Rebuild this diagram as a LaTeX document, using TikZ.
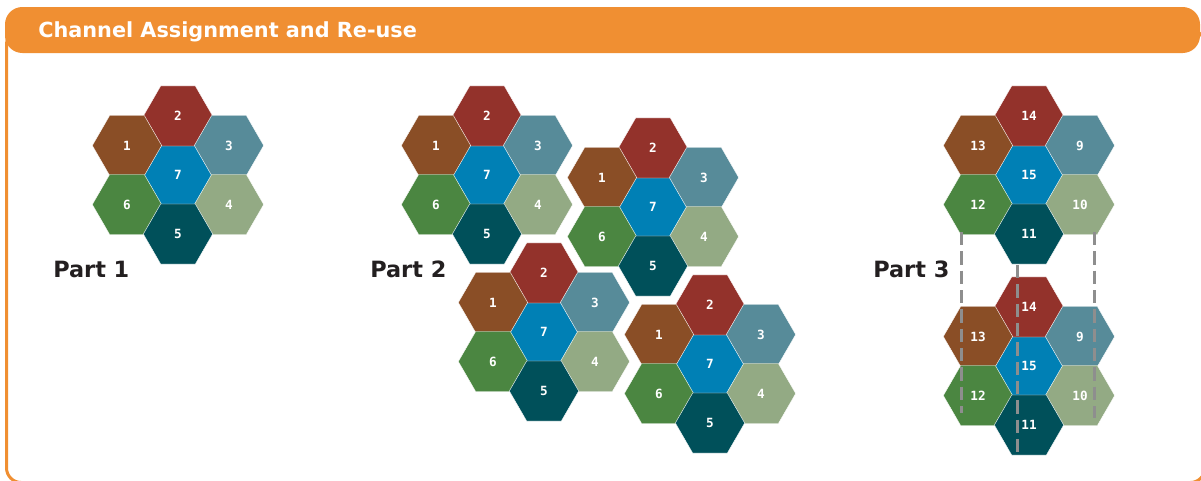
\documentclass[tikz,border=0pt]{standalone}
\usepackage{fontspec}
\setmainfont{DejaVu Sans}
\newfontfamily\cellfont{DejaVu Sans Mono}
\usetikzlibrary{shapes.geometric}

\definecolor{hdrorange}{HTML}{F08F32}
\definecolor{cellbrown}{HTML}{8A4E26}
\definecolor{cellred}{HTML}{93322B}
\definecolor{cellslate}{HTML}{578B99}
\definecolor{cellsage}{HTML}{93AA84}
\definecolor{cellteal}{HTML}{00505A}
\definecolor{cellgreen}{HTML}{4B8641}
\definecolor{cellblue}{HTML}{0080B5}
\definecolor{guidegray}{HTML}{8E8E8E}
\definecolor{labelblack}{HTML}{231F20}

\tikzset{
  cell/.style={regular polygon, regular polygon sides=6, minimum size=52pt,
    inner sep=0pt, outer sep=0pt, draw=white, line width=0.3pt, text=white,
    font=\cellfont\bfseries\fontsize{9.5}{10}\selectfont},
  partlabel/.style={anchor=base west, inner sep=0pt, text=labelblack,
    font=\bfseries\fontsize{16.8}{18}\selectfont},
  guide/.style={guidegray, line width=2.25pt, dash pattern=on 10pt off 4.5pt}
}

% seven cells: #1 name, #2 centre, #3..#9 labels of cells 1..7
\newcommand{\hexcluster}[9]{
  \coordinate (#1) at (#2);
  \node[cell, fill=cellblue]  (#1-7) at (#1) {#9};
  \node[cell, fill=cellred]   (#1-2) at ([shift={(0,-59)}]#1) {#4};
  \node[cell, fill=cellbrown] (#1-1) at ([shift={(-51,-29.5)}]#1) {#3};
  \node[cell, fill=cellslate] (#1-3) at ([shift={(51,-29.5)}]#1) {#5};
  \node[cell, fill=cellgreen] (#1-6) at ([shift={(-51,29.5)}]#1) {#8};
  \node[cell, fill=cellsage]  (#1-4) at ([shift={(51,29.5)}]#1) {#6};
  \node[cell, fill=cellteal]  (#1-5) at ([shift={(0,59)}]#1) {#7};
}

\begin{document}
\begin{tikzpicture}[x=0.75pt, y=-0.75pt]
    \useasboundingbox (0,0) rectangle (1201,480);

    % Ramecek a hlavicka
    \draw[hdrorange, line width=2.25pt, rounded corners=11pt] (6.5,30) rectangle (1205,482.5);
    \fill[hdrorange, rounded corners=13pt] (5,7) rectangle (1200,53);
    \node[anchor=base west, inner sep=0pt, text=white, font=\bfseries\fontsize{15.6}{18}\selectfont] (title) at (38,37) {Channel Assignment and Re-use};

    % Part 1
    \hexcluster{one}{178,175}{1}{2}{3}{4}{5}{6}{7}
    \node[partlabel] (part1) at (53,277) {Part 1};

    % Part 2
    \hexcluster{twoa}{487,175}{1}{2}{3}{4}{5}{6}{7}
    \hexcluster{twob}{653,207}{1}{2}{3}{4}{5}{6}{7}
    \hexcluster{twoc}{544,332}{1}{2}{3}{4}{5}{6}{7}
    \hexcluster{twod}{710,364}{1}{2}{3}{4}{5}{6}{7}
    \node[partlabel] (part2) at (370,277) {Part 2};

    % Part 3
    \hexcluster{threea}{1029,175}{13}{14}{9}{10}{11}{12}{15}
    \hexcluster{threeb}{1029,366}{13}{14}{9}{10}{11}{12}{15}
    \node[partlabel] (part3) at (873,277) {Part 3};

    % Pomocne cary
    \draw[guide] (961,232) -- (961,413);
    \draw[guide] (1017,265) -- (1017,452);
    \draw[guide] (1094,232) -- (1094,418);

\end{tikzpicture}
\end{document}
